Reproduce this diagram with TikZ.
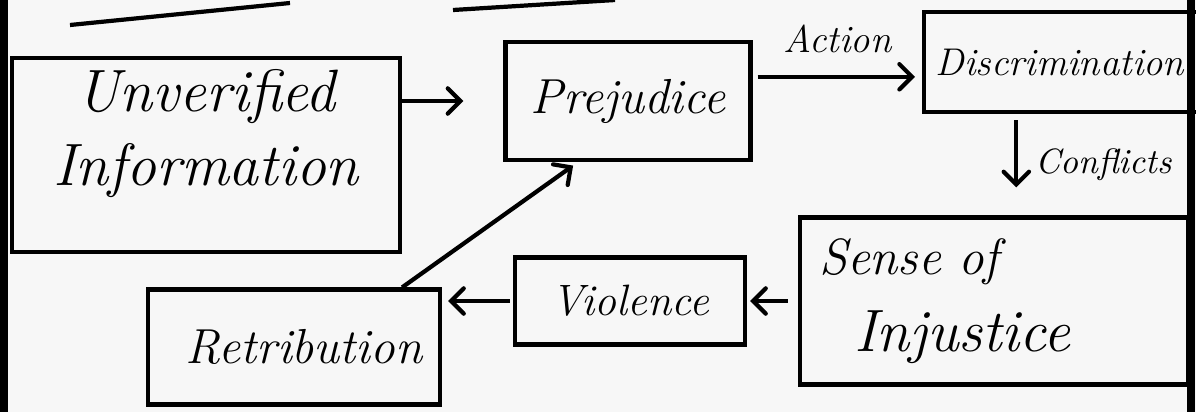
\documentclass[tikz,border=0pt]{standalone}
\usepackage{tikz}
\usetikzlibrary{arrows,arrows.meta}

\begin{document}
\begin{tikzpicture}[x=0.1mm, y=-0.1mm, > = angle 90, box/.style = {draw, very thick, align=center}, link/.style = {very thick, ->}, edge/.style = {line width=2pt}]

    \path[use as bounding box, clip] (0,0) rectangle (1196,412);
    \fill[gray!6] (0,0) rectangle (1196,412);

    % page edges and scraps of the boxes above
    \draw[edge] (4,0) -- (4,412);
    \draw[edge] (1191,0) -- (1191,412);
    \draw[very thick] (70,25) -- (290,3);
    \draw[very thick] (453,10) -- (615,0);

    % boxes
    \node[box, minimum width=38.8mm, minimum height=19.4mm, text depth=5.5mm, font=\itshape\fontsize{17}{21}\selectfont] (unverified) at (206,155) {Unverified\\Information};
    \node[box, minimum width=24.5mm, minimum height=11.8mm, font=\itshape\fontsize{14}{18}\selectfont] (prejudice) at (628,101) {Prejudice};
    \node[box, anchor=west, text width=27.5mm, align=left, minimum height=10mm, font=\itshape\fontsize{11}{14}\selectfont] (discrim) at (922,62) {Discrimination};
    \node[box, align=left, text width=35mm, minimum width=38.8mm, minimum height=16.7mm, font=\itshape\fontsize{14.5}{22}\selectfont] (injustice) at (994,301) {Sense of\\{\fontsize{17}{22}\selectfont\hspace{3.5mm}Injustice}};
    \node[box, minimum width=23mm, minimum height=8.7mm, font=\itshape\fontsize{12.5}{16}\selectfont] (violence) at (630,301) {Violence};
    \node[box, minimum width=29.2mm, minimum height=11.5mm, font=\itshape\fontsize{14}{18}\selectfont] (retribution) at (294,347) {\hspace{2mm}Retribution};

    % arrows
    \draw[link, shorten >=4mm] (unverified.east |- prejudice.west) -- (prejudice.west);
    \draw[link, shorten >=0.7mm, shorten <=0.5mm] (prejudice.11) -- (discrim.west |- prejudice.11) node[midway, above=1mm, font=\itshape\fontsize{11}{13}\selectfont] {Action};
    \draw[link, shorten >=2.8mm, shorten <=0.6mm] ([xshift=-5.7mm]discrim.south) -- ([xshift=-5.7mm]discrim.south |- injustice.north) node[midway, right=0.5mm, font=\itshape\fontsize{10}{12}\selectfont] {Conflicts};
    \draw[link, shorten <=1mm, shorten >=0.3mm] (injustice.west) -- (violence.east);
    \draw[link, shorten <=0.3mm, shorten >=0.6mm] (violence.west) -- (retribution.east |- violence.west);
    \draw[link, shorten >=0.6mm] ([xshift=-4mm]retribution.north east) -- ([xshift=-5mm]prejudice.south);

\end{tikzpicture}
\end{document}
